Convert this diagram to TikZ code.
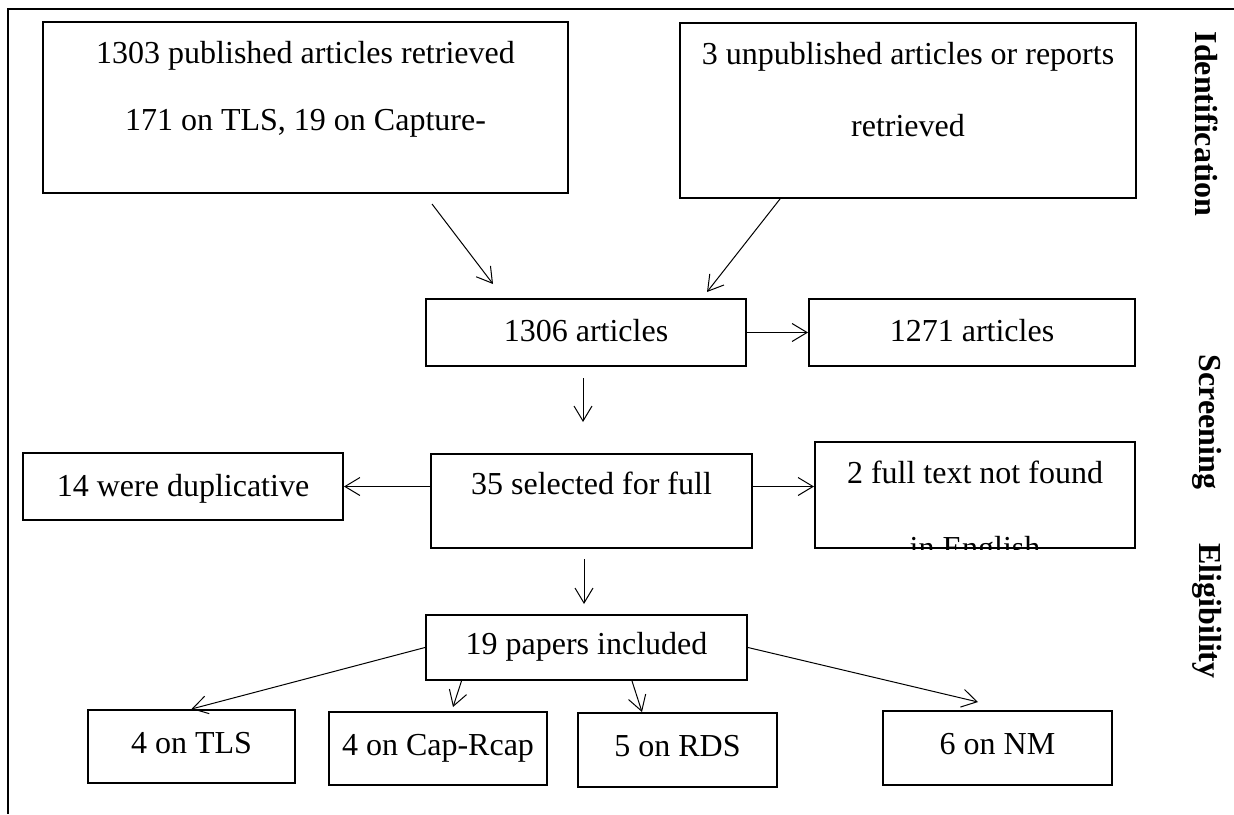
\documentclass[tikz,border=0pt]{standalone}
\usepackage{fontspec}
\setmainfont{Liberation Serif}
\usetikzlibrary{arrows.meta}
\newcommand{\twolines}[3]{\begin{tabular}[t]{@{}c@{}}#2\\[#1]#3\end{tabular}}

\begin{document}
\begin{tikzpicture}[x=1pt,y=-1pt,
	txt/.style={inner sep=0pt, font=\fontsize{32}{38}\selectfont},
	box/.style={txt, draw, line width=2pt},
	arr/.style={->, >={Straight Barb[length=15pt,width=18pt]}, line width=1pt},
	phase/.style={rotate=-90, font=\fontsize{32}{38}\selectfont\bfseries}]
	\useasboundingbox (0,0) rectangle (1234,814);
	\draw[line width=2pt] (1234,9) -- (8,9) -- (8,814);
	% identification
	\node[box, minimum width=525pt, text height=41pt, text depth=130pt] (Pub) at (305.5,107.5)
		{\twolines{29pt}{1303 published articles retrieved}{171 on TLS, 19 on Capture-}};
	\node[box, minimum width=456pt, text height=41pt, text depth=134pt] (Unpub) at (908,110.5)
		{\twolines{34pt}{3 unpublished articles or reports}{retrieved}};
	% screening
	\node[box, minimum width=320pt, text height=42pt, text depth=25pt] (Total) at (586,332.5) {1306 articles};
	\node[box, minimum width=326pt, text height=42pt, text depth=25pt] (Excl) at (972,332.5) {1271 articles};
	% eligibility
	\node[box, minimum width=321pt, text height=40pt, text depth=54pt] (Full) at (591.5,501) {35 selected for full};
	\node[box, minimum width=320pt, text height=43pt, text depth=24pt] (Dup) at (183,486.5) {14 were duplicative};
	\node[box, minimum width=320pt, text height=41pt, text depth=65pt] (NoText) at (975,495) {2 full text not found};
	\begin{scope}
		\clip (NoText.south west) rectangle (NoText.north east);
		\node[txt, anchor=base] (NoTextEn) at ([yshift=-9pt]NoText.south) {in English};
	\end{scope}
	\node[box, minimum width=321pt, text height=39pt, text depth=26pt] (Incl) at (586.5,647.5) {19 papers included};
	% included
	\node[box, minimum width=207pt, text height=43pt, text depth=30pt] (TLS) at (191.5,746.5) {4 on TLS};
	\node[box, minimum width=218pt, text height=43pt, text depth=30pt] (Cap) at (438,748.5) {4 on Cap-Rcap};
	\node[box, minimum width=199pt, text height=43pt, text depth=31pt] (RDS) at (677.5,750) {5 on RDS};
	\node[box, minimum width=229pt, text height=43pt, text depth=31pt] (NM) at (997.5,748) {6 on NM};
	% phases
	\node[phase] (Ident) at (1207,124) {Identification};
	\node[phase] (Screen) at (1207,422) {Screening};
	\node[phase] (Elig) at (1207,611) {Eligibility};
	% arrows
	\draw[arr] ([xshift=126.5pt,yshift=-10pt]Pub.south) -- ([xshift=-93pt,yshift=14pt]Total.north);
	\draw[arr] ([xshift=-128pt]Unpub.south) -- ([xshift=121pt,yshift=6pt]Total.north);
	\draw[arr] (Total) -- (Excl);
	\draw[arr, shorten <=11pt, shorten >=31pt] ([xshift=-3pt]Total.south) -- ([xshift=-3pt]Total.south |- Full.north);
	\draw[arr] (Full.west |- Dup.east) -- (Dup.east);
	\draw[arr] (Full.east |- Dup.east) -- (NoText.west |- Dup.east);
	\draw[arr, shorten <=10pt, shorten >=10pt] ([xshift=-7.5pt]Full.south) -- ([xshift=-7.5pt]Full.south |- Incl.north);
	\draw[arr] (Incl.west) -- (TLS.north);
	\draw[arr] ([xshift=-125pt]Incl.south) -- ([xshift=15pt,yshift=4pt]Cap.north);
	\draw[arr] ([xshift=45.5pt]Incl.south) -- ([xshift=-35.5pt]RDS.north);
	\draw[arr] (Incl.east) -- ([xshift=-19.5pt,yshift=8pt]NM.north);
\end{tikzpicture}
\end{document}
